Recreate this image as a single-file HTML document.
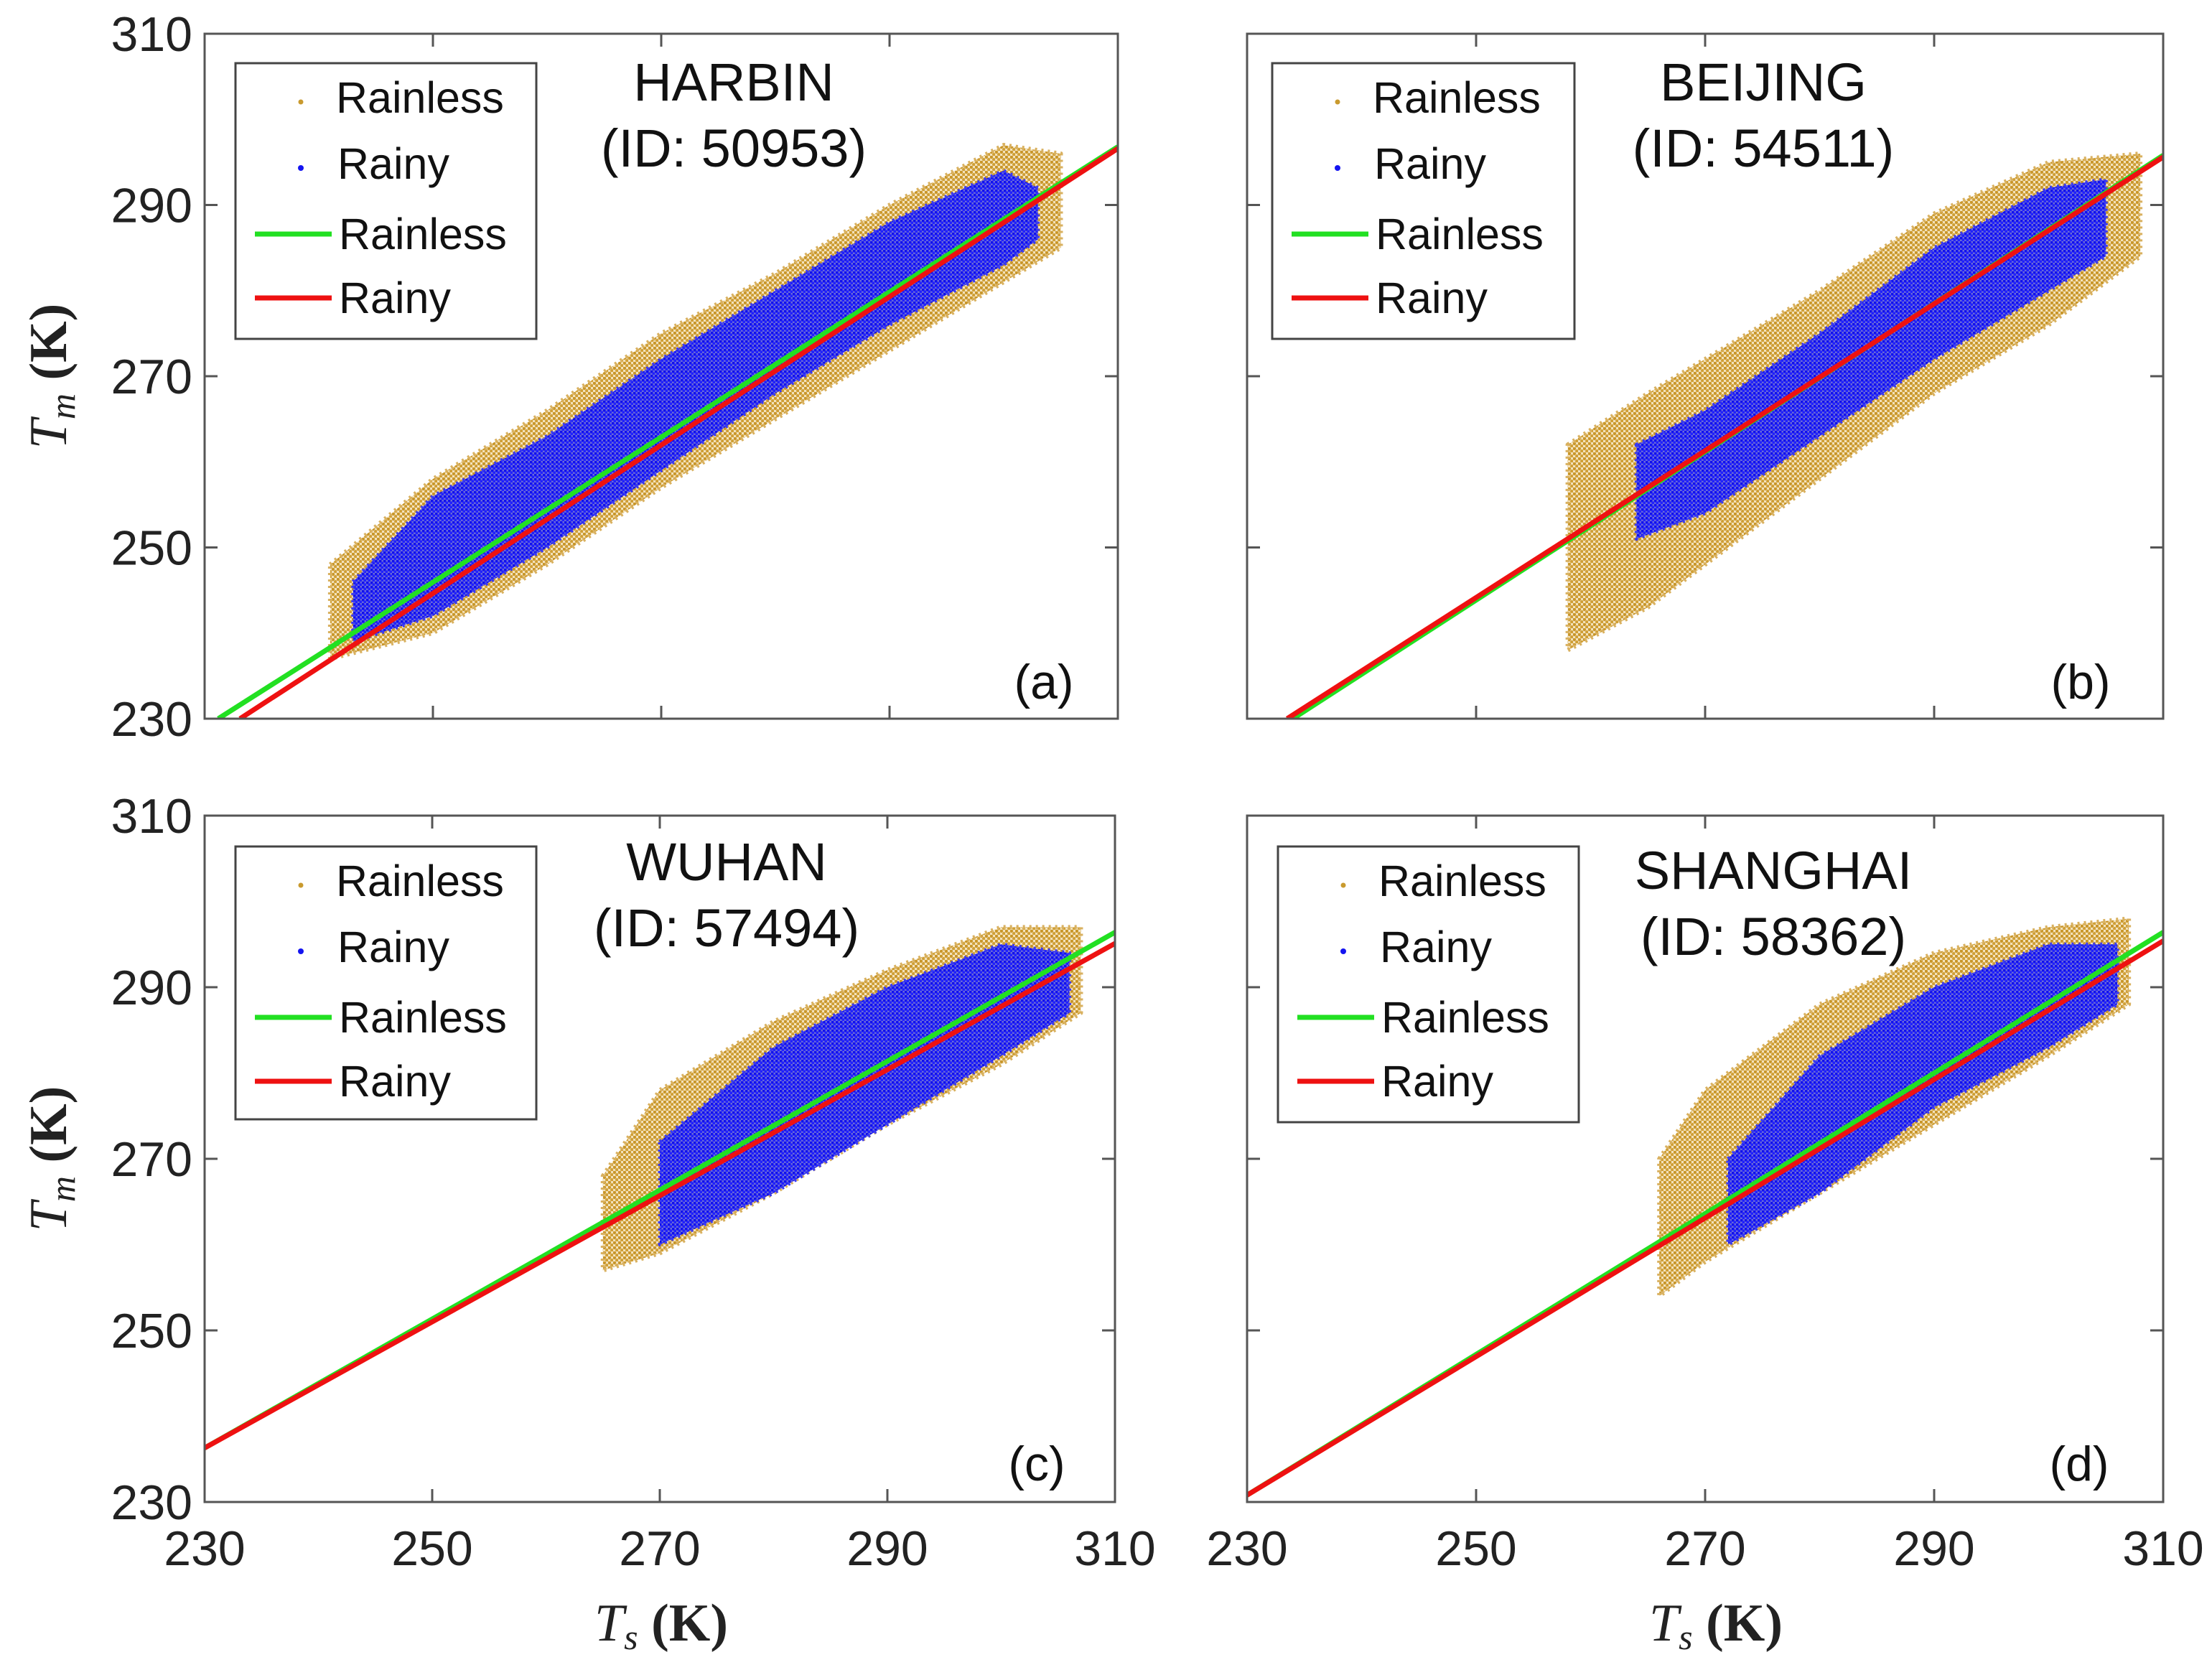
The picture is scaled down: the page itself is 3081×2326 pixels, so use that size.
<!DOCTYPE html>
<html><head><meta charset="utf-8"><style>
html,body{margin:0;padding:0;background:#fff;}
svg{display:block;}
</style></head><body>
<svg id="fig" width="3081" height="2326" viewBox="0 0 3081 2326" xmlns="http://www.w3.org/2000/svg">
<defs>
<pattern id="pOr" width="7" height="7" patternUnits="userSpaceOnUse">
<rect width="7" height="7" fill="#f3e2bc"/>
<circle cx="1.8" cy="1.8" r="2.3" fill="#c8962a"/><circle cx="5.3" cy="5.3" r="2.3" fill="#cf9f36"/>
</pattern>
<pattern id="pBl" width="6" height="6" patternUnits="userSpaceOnUse">
<rect width="6" height="6" fill="#6a6ad8"/>
<circle cx="1.5" cy="1.5" r="2.1" fill="#1010ee"/><circle cx="4.5" cy="4.5" r="2.1" fill="#2020ff"/>
</pattern>
</defs>
</svg>
<script>
// ---- data ----
const xTicks = [230, 250, 270, 290, 310];
const yTicks = [230, 250, 270, 290, 310];
const stationNames = ["HARBIN", "BEIJING", "WUHAN", "SHANGHAI"];
const stationIds = ["(ID: 50953)", "(ID: 54511)", "(ID: 57494)", "(ID: 58362)"];
const panelLabels = ["(a)", "(b)", "(c)", "(d)"];
// regression lines: [ts0, tm0, ts1, tm1]
const greenLines = [[231.2,230,310,296.8],[234.0,230,310,295.8],[230,236.3,310,296.4],[230,230.8,310,296.4]];
const redLines   = [[233.1,230,310,296.6],[233.5,230,310,295.6],[230,236.3,310,295.1],[230,230.8,310,295.4]];
// scatter cloud envelopes (Ts bins, Tm low/high)
const rainlessTs = [[241,250,260,270,280,290,300,305],[258,265,270,280,290,300,308],[265,270,280,290,300,307],[266,270,280,290,300,307]];
const rainlessLo = [[237,240,248,257,265,273,281,285],[238,243,248,258,268,276,284],[257,259,266,274,281,287],[254,258,266,274,282,288]];
const rainlessHi = [[248,258,266,275,282,290,297,296],[262,268,272,280,289,295,296],[268,278,286,292,297,297],[270,278,288,294,297,298]];
const rainyTs = [[243,250,260,270,280,290,300,303],[264,270,280,290,300,305],[270,280,290,300,306],[272,280,290,300,306]];
const rainyLo = [[239,242,250,259,268,276,283,286],[251,254,263,272,280,284],[260,266,274,282,287],[260,266,276,283,288]];
const rainyHi = [[246,256,263,272,280,288,294,292],[262,266,275,285,292,293],[272,283,290,295,294],[270,282,290,295,295]];

// ---- layout ----
const NS = "http://www.w3.org/2000/svg";
const svg = document.getElementById("fig");
const panelsX = [[285,1557],[1737,3013],[285,1553],[1737,3013]];
const panelsY = [[47,1001],[47,1001],[1136,2092],[1136,2092]];
const legendBox = [[328,88,419,384],[1772,88,421,384],[328,1179,419,380],[1780,1179,419,384]];
const titlePos = [[1022,114],[2456,114],[1012,1200],[2470,1212]];
const labelPos = [[1454,949],[2898,949],[1444,2038],[2896,2038]];

function mk(tag, attrs, parent){
  const e = document.createElementNS(NS, tag);
  for (const k in attrs) e.setAttribute(k, attrs[k]);
  (parent||svg).appendChild(e);
  return e;
}

for (let p = 0; p < 4; p++){
  const [x0,x1] = panelsX[p], [y0,y1] = panelsY[p];
  const sx = v => x0 + (v-230)/80*(x1-x0);
  const sy = v => y1 - (v-230)/80*(y1-y0);
  const g = mk("g", {});
  
  
  const clipId = "clip"+p;
  const cp = mk("clipPath", {id: clipId}, g);
  mk("rect", {x:x0, y:y0, width:x1-x0, height:y1-y0}, cp);
  const plot = mk("g", {"clip-path": "url(#"+clipId+")"}, g);

  let pts = [];
  rainlessTs[p].forEach((t,i)=>pts.push(sx(t)+","+sy(rainlessHi[p][i])));
  for (let i = rainlessTs[p].length-1; i >= 0; i--) pts.push(sx(rainlessTs[p][i])+","+sy(rainlessLo[p][i]));
  const c1 = mk("polygon", {points: pts.join(" "), fill: "url(#pOr)", stroke:"#d9b160", "stroke-width":6, "stroke-dasharray":"3 6", "stroke-linejoin":"round"}, plot);
  
  
  pts = [];
  rainyTs[p].forEach((t,i)=>pts.push(sx(t)+","+sy(rainyHi[p][i])));
  for (let i = rainyTs[p].length-1; i >= 0; i--) pts.push(sx(rainyTs[p][i])+","+sy(rainyLo[p][i]));
  const c2 = mk("polygon", {points: pts.join(" "), fill: "url(#pBl)", stroke:"#3a3af0", "stroke-width":5, "stroke-dasharray":"3 7", "stroke-linejoin":"round"}, plot);
  
  

  const gl = greenLines[p], rl = redLines[p];
  const l1 = mk("line", {x1:sx(gl[0]), y1:sy(gl[1]), x2:sx(gl[2]), y2:sy(gl[3]), stroke:"#22e022", "stroke-width":7}, plot);
  
  
  const l2 = mk("line", {x1:sx(rl[0]), y1:sy(rl[1]), x2:sx(rl[2]), y2:sy(rl[3]), stroke:"#ee1111", "stroke-width":7}, plot);
  
  

  const box = mk("rect", {x:x0, y:y0, width:x1-x0, height:y1-y0, fill:"none", stroke:"#555", "stroke-width":3}, g);
  
  
  xTicks.forEach(t=>{
    mk("line", {x1:sx(t), y1:y1, x2:sx(t), y2:y1-18, stroke:"#555", "stroke-width":3}, g);
    mk("line", {x1:sx(t), y1:y0, x2:sx(t), y2:y0+18, stroke:"#555", "stroke-width":3}, g);
    if (p >= 2){
      const tx = mk("text", {x:sx(t), y:2180, "font-family":"Liberation Sans, sans-serif", "font-size":68, fill:"#222", "text-anchor":"middle"}, g);
      tx.textContent = t;
      
      
    }
  });
  yTicks.forEach(t=>{
    mk("line", {x1:x0, y1:sy(t), x2:x0+18, y2:sy(t), stroke:"#555", "stroke-width":3}, g);
    mk("line", {x1:x1, y1:sy(t), x2:x1-18, y2:sy(t), stroke:"#555", "stroke-width":3}, g);
    if (p % 2 === 0){
      const ty = mk("text", {x:268, y:sy(t)+24, "font-family":"Liberation Sans, sans-serif", "font-size":68, fill:"#222", "text-anchor":"end"}, g);
      ty.textContent = t;
      
      
    }
  });

  const [lx,ly,lw,lh] = legendBox[p];
  const lg = mk("g", {}, g);
  
  
  mk("rect", {x:lx, y:ly, width:lw, height:lh, fill:"#fff", stroke:"#444", "stroke-width":3}, lg);
  const rows = [48, 140, 238, 327].map(d=>ly+d);
  const labels = ["Rainless","Rainy","Rainless","Rainy"];
  const textX = [lx+140, lx+142, lx+144, lx+144];
  mk("circle", {cx:lx+91, cy:rows[0]+6, r:3.5, fill:"#c99a2e"}, lg);
  mk("circle", {cx:lx+91, cy:rows[1]+6, r:4, fill:"#1414f0"}, lg);
  mk("line", {x1:lx+27, y1:rows[2], x2:lx+134, y2:rows[2], stroke:"#22e022", "stroke-width":7}, lg);
  mk("line", {x1:lx+27, y1:rows[3], x2:lx+134, y2:rows[3], stroke:"#ee1111", "stroke-width":7}, lg);
  labels.forEach((s,i)=>{
    const t = mk("text", {x:textX[i], y:rows[i]+21, "font-family":"Liberation Sans, sans-serif", "font-size":61, fill:"#111"}, lg);
    t.textContent = s;
    
    
  });

  const [tx,ty] = titlePos[p];
  const t1 = mk("text", {x:tx, y:ty+26, "font-family":"Liberation Sans, sans-serif", "font-size":74, fill:"#111", "text-anchor":"middle"}, g);
  t1.textContent = stationNames[p];
  
  
  const t2 = mk("text", {x:tx, y:ty+118, "font-family":"Liberation Sans, sans-serif", "font-size":74, fill:"#111", "text-anchor":"middle"}, g);
  t2.textContent = stationIds[p];
  
  
  const pl = mk("text", {x:labelPos[p][0], y:labelPos[p][1]+24, "font-family":"Liberation Sans, sans-serif", "font-size":68, fill:"#111", "text-anchor":"middle"}, g);
  pl.textContent = panelLabels[p];
  
  
}

[524, 1614].forEach(cy=>{
  const yt = mk("text", {transform:"translate(92,"+cy+") rotate(-90)", "font-family":"Liberation Serif, serif", "font-size":74, fill:"#222", "text-anchor":"middle"});
  yt.innerHTML = '<tspan font-style="italic">T</tspan><tspan font-style="italic" font-size="50" dy="12">m</tspan><tspan dy="-12" font-weight="bold"> (K)</tspan>';
  
  
});
[921, 2390].forEach(cx=>{
  const xt = mk("text", {x:cx, y:2285, "font-family":"Liberation Serif, serif", "font-size":74, fill:"#222", "text-anchor":"middle"});
  xt.innerHTML = '<tspan font-style="italic">T</tspan><tspan font-style="italic" font-size="50" dy="12">s</tspan><tspan dy="-12" font-weight="bold"> (K)</tspan>';
  
  
});
</script>
</body></html>
